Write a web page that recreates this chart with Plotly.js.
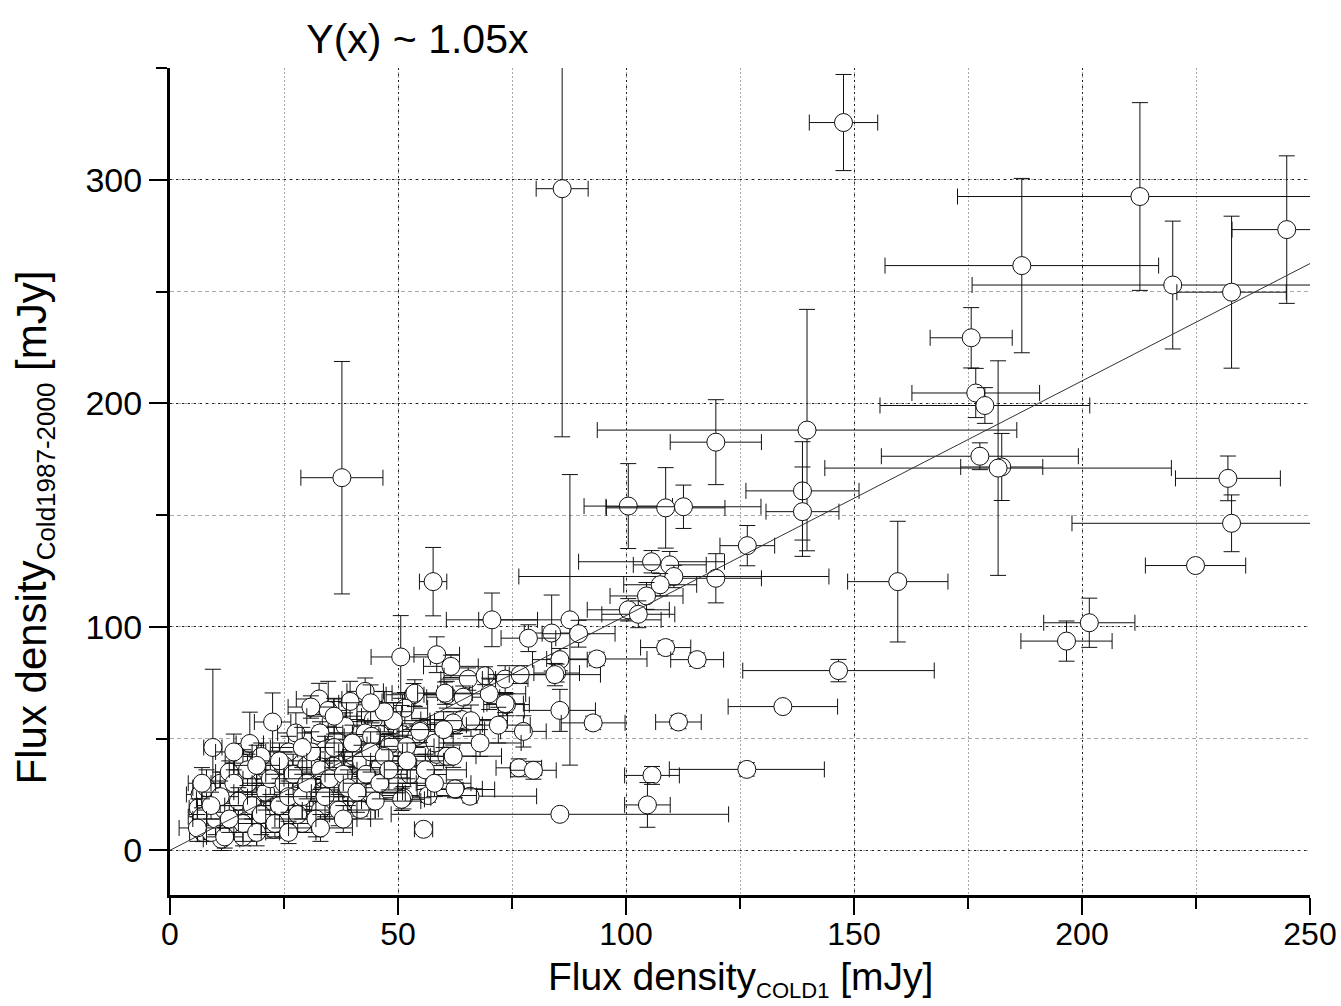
<!DOCTYPE html>
<html>
<head>
<meta charset="utf-8">
<script src="https://cdn.plot.ly/plotly-3.0.1.min.js"></script>
<style>html,body{margin:0;padding:0;background:#fff;}#chart{width:1341px;height:1006px;}</style>
</head>
<body>
<div id="chart"></div>
<script>
// Flux density COLD1 (x) and Cold1987-2000 (y), with errors [mJy]
var fluxCold1 = [
86.0,147.7,212.7,186.8,244.9,219.9,232.8,175.7,176.7,178.7,
139.7,119.7,138.7,138.7,100.5,108.7,112.6,126.6,119.7,159.6,
177.6,182.4,181.6,232.0,232.8,224.9,201.6,196.6,146.6,134.4,
126.5,105.7,104.7,85.5,55.6,93.6,108.7,115.6,85.5,92.8,
111.5,77.5,76.5,79.7,73.8,62.7,65.8,56.6,52.6,51.2,
87.7,70.6,83.7,78.6,89.6,57.7,37.7,9.4,50.6,85.5,
84.8,58.5,61.6,105.6,109.6,110.5,107.5,104.5,100.5,102.7,
65.4,69.1,73.5,76.8,60.7,64.3,73.5,53.4,51.5,54.8,
62.5,64.0,58.5,60.7,45.7,50.8,62.5,84.4,42.8,39.5,
44.6,38.4,42.8,46.1,50.8,54.1,58.1,40.2,39.5,40.9,
41.7,44.6,17.5,22.5,27.6,32.7,34.7,30.9,53.7,60.3,
62.1,16.1,6.6,6.2,7.3,11.3,22.7,16.4,27.8,32.9,
44.2,48.2,40.2,35.8,31.4,27.0,23.4,19.7,12.4,9.5,
15.4,21.2,30.0,31.4,24.1,19.7,12.4,8.8,14.6,18.3,
25.6,37.3,41.7,46.1,43.9,62.1,51.9,54.8,8.0,10.0,
13.0,14.0,17.0,20.0,22.0,26.0,28.0,33.0,35.0,11.0,
9.0,15.0,24.0,29.0,36.0,18.0,21.0,26.0,13.0,7.0,
16.0,25.0,34.0,30.0,20.0,23.0,17.0,
6,8,10,12,12,14,15,16,17,18,
19,20,21,22,23,24,25,26,27,28,
29,30,31,32,33,34,35,36,37,38,
39,40,41,42,43,44,45,46,47,48,
49,47,44,36,29,24,19,14,11,9,
7,13,26,33,38,52,56,58,60,66,
68,70,72
];
var fluxCold8700 = [
296.0,325.6,292.5,261.6,277.7,252.9,249.7,229.3,204.6,199.0,
188.0,182.6,160.8,151.5,154.0,153.2,153.7,136.3,121.7,120.2,
176.3,171.5,171.0,166.4,146.3,127.4,101.8,93.6,80.4,64.3,
36.2,33.5,20.3,16.1,9.4,85.6,90.7,85.3,62.6,57.0,
57.4,53.2,36.9,35.8,65.2,27.2,24.2,24.5,33.9,23.5,
103.1,103.1,97.2,94.9,96.9,120.2,166.7,46.0,86.5,85.3,
79.3,87.5,82.3,129.1,127.7,122.5,118.8,113.8,107.6,105.6,
76.6,78.1,76.6,78.6,69.6,68.5,65.6,69.6,63.6,54.0,
56.3,58.5,42.9,42.1,32.4,22.8,27.5,78.6,71.1,66.6,
58.5,55.5,52.5,51.8,51.8,51.0,48.0,37.6,43.6,22.0,
18.3,25.7,47.8,57.4,52.5,67.7,62.6,64.1,70.3,70.3,
57.0,39.0,25.0,19.0,7.9,4.9,9.4,18.3,40.6,52.5,
51.0,47.3,42.1,37.6,33.1,27.2,22.8,21.3,22.0,15.3,
12.4,13.8,21.3,25.7,31.7,33.2,27.2,22.8,16.8,15.3,
18.3,27.2,31.7,37.6,25.7,42.1,46.5,53.2,12.0,18.0,
10.0,24.0,8.0,28.0,18.0,14.0,32.0,18.0,28.0,30.0,
8.0,30.0,26.0,12.0,22.0,24.0,36.0,44.0,35.0,15.0,
6.0,38.0,45.0,38.0,42.0,27.0,30.0,
10,28,14,6,18,30,22,12,36,20,
8,16,26,32,12,20,30,24,34,16,
24,30,44,14,36,24,32,46,18,34,
28,48,26,40,34,44,22,30,42,36,
58,62,66,60,46,40,38,44,24,20,
30,14,8,10,14,40,36,30,54,58,
48,70,56
];
var errCold1 = [
5.7,7.5,40,30,12,44,12,9,14,23,
46,10,12.4,8,9.7,13,17,6,10,11,
21.6,9,38,11.5,35,11,10,10,21,12,
17,6,5,37,2,11,5.5,5.8,7.8,7,
5,5,5,5,5,8.5,14.6,10.6,8,6,
20,10,6,6,8,3,9,2,6.5,6,
5,5,6,16,8,34,8,8,9,8,
6,9,5,7,5,8,4,6,5,7,
6,9,5,12,7,5,6,10,4,7,
6,5,9,6,5,8,10,6,8,5,
4,7,3,4,4,5,4,5,5,6,
5,4,3,2,3,4,5,4,5,5,
6,5,5,6,5,4,5,4,3,3,
4,5,6,5,5,4,3,3,4,4,
5,7,6,8,6,5,6,5,3,3,
4,4,4,5,4,5,5,6,6,3,
3,4,5,5,6,4,5,5,3,3,
3,5,6,5,4,5,4,
4,3,5,4,6,5,7,5,4,8,
5,6,7,6,8,5,7,9,6,7,
8,6,7,9,7,8,10,6,8,9,
7,6,10,8,9,7,10,8,9,7,
8,6,7,6,7,6,5,4,4,3,
3,5,6,7,6,8,9,8,9,8,
9,8,7
];
var errCold8700 = [
111,21.5,42,39,33,28.6,34,13.5,11,8,
54,19,22,20,19,18,9.7,9,11,27,
6,15,48,10,12.7,2,11,9,5,2,
3,4,10,2,2,3,3,3,9.4,3,
3,7,4,4,5,3,3,3,4,5,
65,12,17,6,6,15.3,52,35,18.5,5,
4,8,5,5,6,5,5,6,5,6,
5,4,6,4,6,5,4,5,7,5,
4,5,5,4,4,5,4,5,6,9,
5,6,5,4,13,5,6,5,4,4,
3,5,14,13,9,7,13,5,6,5,
5,6,5,4,4,5,4,5,6,5,
6,5,5,5,6,5,6,5,6,5,
5,4,5,6,7,5,4,6,5,5,
5,5,5,5,4,5,5,5,4,5,
4,6,4,6,5,4,6,5,5,5,
3,6,5,4,5,5,6,7,5,4,
4,6,6,5,6,5,5,
6,8,7,5,8,9,6,8,7,6,
6,9,8,7,6,10,8,7,9,8,
10,7,9,8,10,9,8,9,7,10,
8,8,9,7,10,9,8,7,10,9,
8,9,8,8,9,8,9,8,7,6,
7,6,5,6,6,8,7,6,8,7,
6,7,8
];
var fitSlope = 1.05;
var fitRange = [0, 250];
var xTickVals = [0, 50, 100, 150, 200, 250];
var yTickVals = [0, 100, 200, 300];

var sans = "Liberation Sans, Arial, sans-serif";

// one trace per point so each circle covers only earlier error bars (as in the original)
var traces = fluxCold1.map(function (xv, i) {
  return {
    type: 'scatter', mode: 'markers',
    x: [xv], y: [fluxCold8700[i]],
    error_x: {type: 'data', array: [errCold1[i]], visible: true, color: '#111', thickness: 1, width: 8},
    error_y: {type: 'data', array: [errCold8700[i]], visible: true, color: '#111', thickness: 1, width: 8},
    marker: {symbol: 'circle', size: 18, color: '#fff', line: {color: '#111', width: 1}},
    showlegend: false, hoverinfo: 'x+y'
  };
});
traces.push({
  type: 'scatter', mode: 'lines',
  x: fitRange, y: fitRange.map(function (v) { return fitSlope * v; }),
  line: {color: '#333', width: 1}, showlegend: false, hoverinfo: 'skip'
});

var layout = {
  width: 1341, height: 1006,
  margin: {l: 170, r: 31, t: 68, b: 111},
  paper_bgcolor: '#fff', plot_bgcolor: '#fff',
  showlegend: false,
  title: {text: 'Y(x) ~ 1.05x', font: {family: sans, size: 41, color: '#000'},
          xref: 'paper', x: 0.217, xanchor: 'center', yref: 'container', y: 0.962, yanchor: 'middle'},
  xaxis: {
    range: [0, 250], tickmode: 'array', tickvals: xTickVals,
    ticks: 'outside', ticklen: 17, tickwidth: 2, tickcolor: '#000',
    ticklabelstandoff: -8,
    ticklabeloverflow: 'allow',
    showline: true, linewidth: 3, linecolor: '#000', mirror: false, zeroline: false,
    showgrid: true, gridcolor: '#222', griddash: '2px,4px', gridwidth: 1,
    minor: {dtick: 25, tick0: 0, ticks: 'outside', ticklen: 11, tickwidth: 2, tickcolor: '#000',
            showgrid: true, gridcolor: '#aaa', griddash: '2px,2px', gridwidth: 1},
    tickfont: {family: sans, size: 32, color: '#000'}
  },
  yaxis: {
    range: [-20, 350], tickmode: 'array', tickvals: yTickVals,
    ticks: 'outside', ticklen: 18, tickwidth: 2, tickcolor: '#000',
    showline: true, linewidth: 3, linecolor: '#000', zeroline: false,
    showgrid: true, gridcolor: '#222', griddash: '2px,4px', gridwidth: 1,
    minor: {dtick: 50, tick0: 0, ticks: 'outside', ticklen: 11, tickwidth: 2, tickcolor: '#000',
            showgrid: true, gridcolor: '#aaa', griddash: '4px,3px', gridwidth: 1},
    tickfont: {family: sans, size: 34, color: '#000'}
  },
  annotations: [
    {
      text: 'Flux density<sub><span style="font-size:22px">COLD1</span></sub> [mJy]',
      font: {family: sans, size: 39, color: '#000'},
      xref: 'paper', yref: 'paper', x: 0.5, y: -0.133, xanchor: 'center', yanchor: 'bottom',
      showarrow: false
    },
    {
      text: 'Flux density<sub><span style="font-size:26px">Cold1987-2000</span></sub> [mJy]',
      textangle: -90, font: {family: sans, size: 42, color: '#000'},
      xref: 'paper', yref: 'paper', x: -0.118, y: 0.445, xanchor: 'center', yanchor: 'middle',
      showarrow: false
    }
  ]
};

Plotly.newPlot('chart', traces, layout, {displayModeBar: false, staticPlot: true});
</script>
</body>
</html>
